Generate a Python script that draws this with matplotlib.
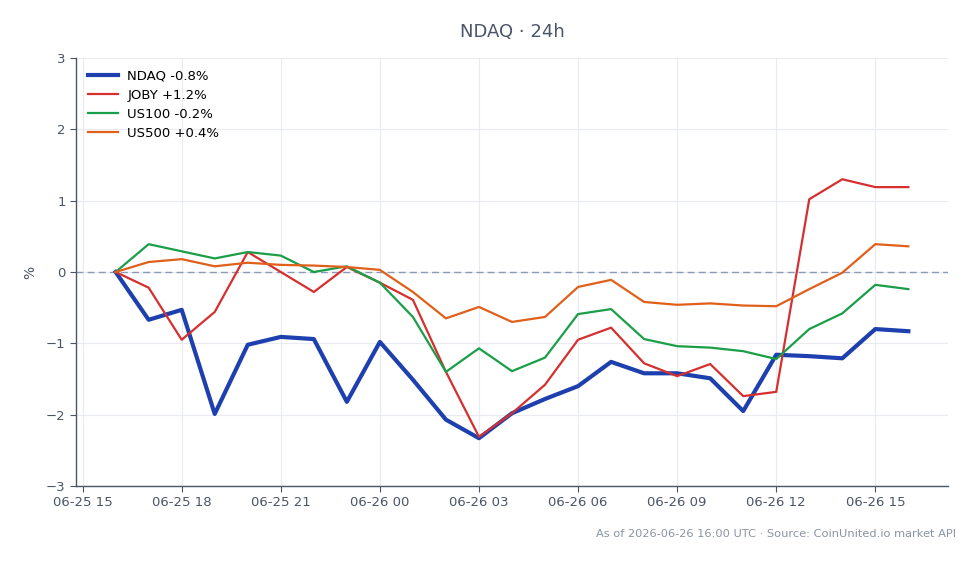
import matplotlib
matplotlib.use("Agg")
import matplotlib.pyplot as plt
import matplotlib.dates as mdates
import numpy as np
import pandas as pd

times = pd.date_range("2026-06-25 16:00", "2026-06-26 16:00", freq="h")

ndaq = [0.0, -0.67, -0.53, -1.99, -1.02, -0.91, -0.94, -1.82, -0.98, -1.51, -2.07, -2.33,
        -1.98, -1.78, -1.60, -1.26, -1.42, -1.42, -1.49, -1.95, -1.16, -1.18, -1.21, -0.80, -0.83]
joby = [0.0, -0.22, -0.95, -0.56, 0.28, 0.0, -0.28, 0.07, -0.15, -0.39, -1.40, -2.31,
        -1.98, -1.58, -0.95, -0.78, -1.28, -1.46, -1.29, -1.74, -1.68, 1.02, 1.30, 1.19, 1.19]
us100 = [0.0, 0.39, 0.29, 0.19, 0.28, 0.23, 0.0, 0.08, -0.15, -0.63, -1.40, -1.07,
         -1.39, -1.20, -0.59, -0.52, -0.94, -1.04, -1.06, -1.11, -1.22, -0.80, -0.58, -0.18, -0.24]
us500 = [0.0, 0.14, 0.18, 0.08, 0.13, 0.10, 0.09, 0.07, 0.03, -0.28, -0.65, -0.49,
         -0.70, -0.63, -0.21, -0.11, -0.42, -0.46, -0.44, -0.47, -0.48, -0.24, -0.01, 0.39, 0.36]

labels = ["NDAQ -0.8%", "JOBY +1.2%", "US100 -0.2%", "US500 +0.4%"]
colors = ["#1e40af", "#d62f2f", "#1a9e48", "#e0601a"]
widths = [3.0, 1.6, 1.6, 1.6]
series = [ndaq, joby, us100, us500]

text_c = "#4a5568"

fig = plt.figure(figsize=(9.8, 5.64), dpi=100)
ax = fig.add_axes([76/980, 1-486/564, (948-76)/980, (486-58)/564])

for s, lab, c, w in zip(series, labels, colors, widths):
    ax.plot(times, s, color=c, lw=w, label=lab, zorder=3)

ax.axhline(0, color="#8c9bb5", lw=1, ls=(0, (5, 3)), zorder=2)

ax.set_ylim(-3, 3)
ax.set_yticks([-3, -2, -1, 0, 1, 2, 3])
ax.xaxis.set_major_locator(mdates.HourLocator(byhour=range(0, 24, 3)))
ax.xaxis.set_major_formatter(mdates.DateFormatter("%m-%d %H"))
ax.margins(x=0.05)

ax.grid(True, color="#e8ebf0", lw=0.8, zorder=0)
for sp in ["top", "right"]:
    ax.spines[sp].set_visible(False)
for sp in ["left", "bottom"]:
    ax.spines[sp].set_color(text_c)
    ax.spines[sp].set_linewidth(1.0)
ax.tick_params(colors=text_c, labelsize=9.5, length=4)
ax.set_ylabel("%", color=text_c, fontsize=10, labelpad=6)

leg = ax.legend(loc="upper left", frameon=False, fontsize=9.5, handlelength=2.3,
                borderaxespad=0.5, labelspacing=0.45, handletextpad=0.7)

fig.text(512/980, 1-32/564, "NDAQ · 24h", ha="center", va="center", fontsize=13, color=text_c)
fig.text(956/980, 1-534/564, "As of 2026-06-26 16:00 UTC · Source: CoinUnited.io market API",
         ha="right", va="center", fontsize=8.2, color="#8a94a3")

fig.savefig("out.png", dpi=100)
